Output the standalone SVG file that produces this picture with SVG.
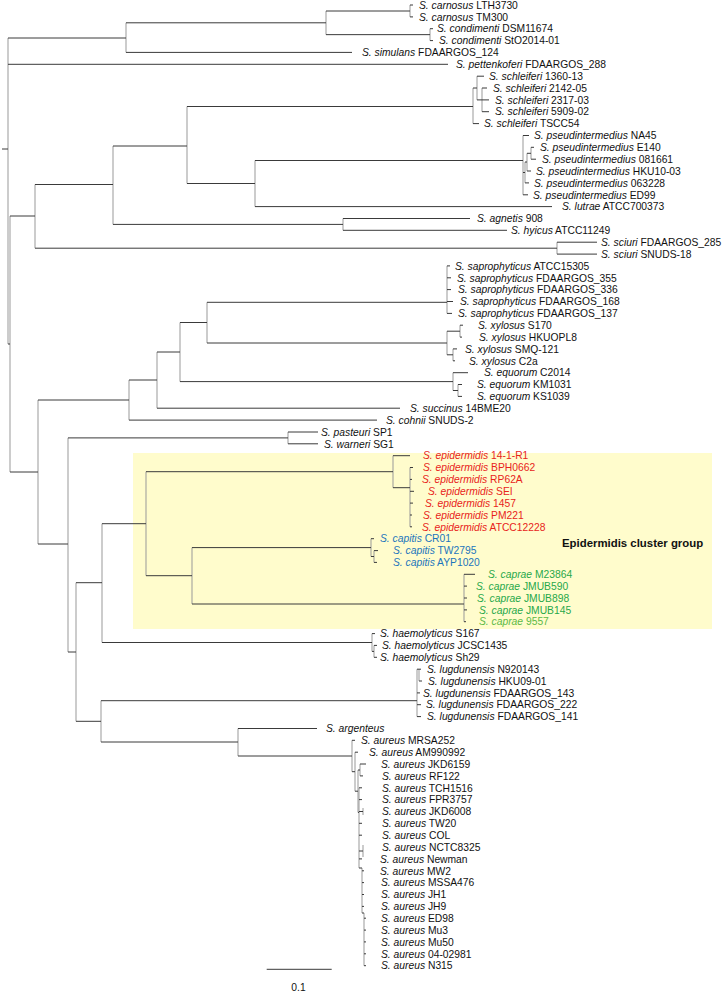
<svg xmlns="http://www.w3.org/2000/svg" width="726" height="992" viewBox="0 0 726 992">
<style>
.bg{fill:#fff}
.box{fill:#fffccc}
.h{fill:none;stroke:#3a3a3a;stroke-width:1}
.v{fill:none;stroke:#999;stroke-width:1}
text{font-family:"Liberation Sans",Arial,sans-serif;font-size:10.3px;fill:#111}
.sp{font-style:italic}
.red{fill:#e8231a}
.blue{fill:#1b75bc}
.green{fill:#1fa84a}
.lgreen{fill:#5cb946}
.grp{font-weight:bold;font-size:11.4px}
</style>
<rect class="bg" x="0" y="0" width="726" height="992"/>
<rect id="epidermidis-cluster-box" class="box" x="133" y="453" width="579" height="176"/>
<g id="connectors">
<path class="v" d="M8 38V344M126 22.8V52.4M326 11V34.65M410 5V16.9M430 28.7V40.6M10 216V472M35 184.5V248.2M557 242.2V254.1M113 146V224.4M343 218.5V230.3M187 106.5V183.5M473 88V123.6M477 76.2V99.9M482 88V111.7M255 160.5V206.6M523 135.5V194.8M525 162V182.9M527 153.3V171M531 147.3V159.2M38 400V544M129 380V420.1M157 352V408.2M180 322.5V381.6M207 302.3V343M447 265.9V313.4M447 331.2V354.8M460 325.2V337.1M453 348.9V360.8M453 372.7V390.5M458 384.5V396.4M68 437.9V652M288 432V443.8M76 582.7V721.3M102 523.7V642.5M146 471.7V575.7M192 547.6V604M393 455.7V487.7M410 467.5V526.8M371 538.7V556.5M374 550.6V562.4M464 574.3V621.7M372 633.6V651.4M374 645.4V657.3M101 700.7V742M417 669.2V716.6M419 669.2V681M238 728.5V756M352 740.3V771.7M355 752.2V791.2M358 770V812.4M360 764V775.9M359 787.8V868M363 808V815M363 845V857M362 868V913M364 913V965.7"/>
<path class="h" d="M2 149H8M8 38H126M8 64.3H448M8 344H10M126 22.8H326M126 52.4H352M326 11H410M326 34.65H430M410 5H413M410 16.9H413M430 28.7H433M430 40.6H433M10 216H35M10 472H38M35 184.5H113M35 248.2H557M557 242.2H597M557 254.1H597M113 146H187M113 224.4H343M343 218.5H470M343 230.3H507M187 106.5H473M187 183.5H255M473 88H477M473 123.6H479M477 76.2H484M477 99.9H482M482 88H487M482 99.9H489M482 111.7H489M255 160.5H523M255 206.6H552M523 135.5H529M523 172.5H525M525 162H527M527 153.3H531M531 147.3H534M531 159.2H536M527 171H531M525 182.9H529M523 194.8H528M38 400H129M38 544H68M129 380H157M129 420.1H377M157 352H180M157 408.2H400M180 322.5H207M180 381.6H453M207 302.3H447M207 343H447M447 265.9H450M447 277.8H451M447 289.6H451M447 301.5H453M447 313.4H452M447 331.2H460M460 325.2H463M460 337.1H462M447 354.8H453M453 348.9H457M453 360.8H455M453 372.7H468M453 390.5H458M458 384.5H462M458 396.4H462M68 437.9H288M68 652H76M288 432H318M288 443.8H318M76 582.7H102M76 721.3H101M102 523.7H146M102 642.5H372M146 471.7H393M146 575.7H192M192 547.6H371M192 604H464M393 455.7H410M393 487.7H410M410 467.5H413M410 479.4H412M410 491.3H414M410 503.1H413M410 515H412M410 526.8H412M371 538.7H374M371 556.5H374M374 550.6H378M374 562.4H377M464 574.3H475M464 586.1H467M464 598H467M464 609.9H467M464 621.7H466M372 633.6H375M372 651.4H374M374 645.4H377M374 657.3H377M101 700.7H417M101 742H238M417 669.2H421M419 681H422M417 692.9H420M417 704.7H421M417 716.6H421M238 728.5H317M238 756H352M352 740.3H355M352 771.7H355M355 752.2H358M355 791.2H358M358 770H360M360 764H366M360 775.9H363M358 812.4H359M359 787.8H362M359 799.6H362M359 811.5H363M359 823.3H362M359 835.2H362M359 851H363M359 858.9H362M359 868H362M362 870.8H364M362 882.6H364M362 894.5H364M362 906.4H364M362 913H364M364 918.2H366M364 930.1H366M364 941.9H366M364 953.8H366M364 965.7H366"/>
</g>
<g id="scale-bar">
<path class="h" d="M266.7 969.3H331.7"/>
<text x="298.5" y="990.5" text-anchor="middle">0.1</text>
</g>
<g id="label-group"><text class="grp" x="562" y="547">Epidermidis cluster group</text></g>
<g id="leaf-00"><text x="419" y="8.7"><tspan class="sp">S. carnosus</tspan> LTH3730</text></g>
<g id="leaf-01"><text x="419" y="20.6"><tspan class="sp">S. carnosus</tspan> TM300</text></g>
<g id="leaf-02"><text x="437" y="32.4"><tspan class="sp">S. condimenti</tspan> DSM11674</text></g>
<g id="leaf-03"><text x="439" y="44.3"><tspan class="sp">S. condimenti</tspan> StO2014-01</text></g>
<g id="leaf-04"><text x="362" y="56.1"><tspan class="sp">S. simulans</tspan> FDAARGOS_124</text></g>
<g id="leaf-05"><text x="456" y="68.0"><tspan class="sp">S. pettenkoferi</tspan> FDAARGOS_288</text></g>
<g id="leaf-06"><text x="489" y="79.9"><tspan class="sp">S. schleiferi</tspan> 1360-13</text></g>
<g id="leaf-07"><text x="493" y="91.7"><tspan class="sp">S. schleiferi</tspan> 2142-05</text></g>
<g id="leaf-08"><text x="495" y="103.6"><tspan class="sp">S. schleiferi</tspan> 2317-03</text></g>
<g id="leaf-09"><text x="495" y="115.4"><tspan class="sp">S. schleiferi</tspan> 5909-02</text></g>
<g id="leaf-10"><text x="484" y="127.3"><tspan class="sp">S. schleiferi</tspan> TSCC54</text></g>
<g id="leaf-11"><text x="534" y="139.2"><tspan class="sp">S. pseudintermedius</tspan> NA45</text></g>
<g id="leaf-12"><text x="540" y="151.0"><tspan class="sp">S. pseudintermedius</tspan> E140</text></g>
<g id="leaf-13"><text x="542" y="162.9"><tspan class="sp">S. pseudintermedius</tspan> 081661</text></g>
<g id="leaf-14"><text x="536" y="174.7"><tspan class="sp">S. pseudintermedius</tspan> HKU10-03</text></g>
<g id="leaf-15"><text x="534" y="186.6"><tspan class="sp">S. pseudintermedius</tspan> 063228</text></g>
<g id="leaf-16"><text x="533" y="198.5"><tspan class="sp">S. pseudintermedius</tspan> ED99</text></g>
<g id="leaf-17"><text x="562" y="210.3"><tspan class="sp">S. lutrae</tspan> ATCC700373</text></g>
<g id="leaf-18"><text x="477" y="222.2"><tspan class="sp">S. agnetis</tspan> 908</text></g>
<g id="leaf-19"><text x="511" y="234.0"><tspan class="sp">S. hyicus</tspan> ATCC11249</text></g>
<g id="leaf-20"><text x="601" y="245.9"><tspan class="sp">S. sciuri</tspan> FDAARGOS_285</text></g>
<g id="leaf-21"><text x="601" y="257.8"><tspan class="sp">S. sciuri</tspan> SNUDS-18</text></g>
<g id="leaf-22"><text x="455" y="269.6"><tspan class="sp">S. saprophyticus</tspan> ATCC15305</text></g>
<g id="leaf-23"><text x="457" y="281.5"><tspan class="sp">S. saprophyticus</tspan> FDAARGOS_355</text></g>
<g id="leaf-24"><text x="458" y="293.3"><tspan class="sp">S. saprophyticus</tspan> FDAARGOS_336</text></g>
<g id="leaf-25"><text x="460" y="305.2"><tspan class="sp">S. saprophyticus</tspan> FDAARGOS_168</text></g>
<g id="leaf-26"><text x="458" y="317.1"><tspan class="sp">S. saprophyticus</tspan> FDAARGOS_137</text></g>
<g id="leaf-27"><text x="478" y="328.9"><tspan class="sp">S. xylosus</tspan> S170</text></g>
<g id="leaf-28"><text x="479" y="340.8"><tspan class="sp">S. xylosus</tspan> HKUOPL8</text></g>
<g id="leaf-29"><text x="465" y="352.6"><tspan class="sp">S. xylosus</tspan> SMQ-121</text></g>
<g id="leaf-30"><text x="469" y="364.5"><tspan class="sp">S. xylosus</tspan> C2a</text></g>
<g id="leaf-31"><text x="484" y="376.4"><tspan class="sp">S. equorum</tspan> C2014</text></g>
<g id="leaf-32"><text x="477" y="388.2"><tspan class="sp">S. equorum</tspan> KM1031</text></g>
<g id="leaf-33"><text x="477" y="400.1"><tspan class="sp">S. equorum</tspan> KS1039</text></g>
<g id="leaf-34"><text x="410" y="411.9"><tspan class="sp">S. succinus</tspan> 14BME20</text></g>
<g id="leaf-35"><text x="386" y="423.8"><tspan class="sp">S. cohnii</tspan> SNUDS-2</text></g>
<g id="leaf-36"><text x="321" y="435.7"><tspan class="sp">S. pasteuri</tspan> SP1</text></g>
<g id="leaf-37"><text x="324" y="447.5"><tspan class="sp">S. warneri</tspan> SG1</text></g>
<g id="leaf-38"><text class="red" x="423" y="459.4"><tspan class="sp">S. epidermidis</tspan> 14-1-R1</text></g>
<g id="leaf-39"><text class="red" x="423" y="471.2"><tspan class="sp">S. epidermidis</tspan> BPH0662</text></g>
<g id="leaf-40"><text class="red" x="422" y="483.1"><tspan class="sp">S. epidermidis</tspan> RP62A</text></g>
<g id="leaf-41"><text class="red" x="428" y="495.0"><tspan class="sp">S. epidermidis</tspan> SEI</text></g>
<g id="leaf-42"><text class="red" x="425" y="506.8"><tspan class="sp">S. epidermidis</tspan> 1457</text></g>
<g id="leaf-43"><text class="red" x="423" y="518.7"><tspan class="sp">S. epidermidis</tspan> PM221</text></g>
<g id="leaf-44"><text class="red" x="422" y="530.5"><tspan class="sp">S. epidermidis</tspan> ATCC12228</text></g>
<g id="leaf-45"><text class="blue" x="380" y="542.4"><tspan class="sp">S. capitis</tspan> CR01</text></g>
<g id="leaf-46"><text class="blue" x="393" y="554.3"><tspan class="sp">S. capitis</tspan> TW2795</text></g>
<g id="leaf-47"><text class="blue" x="393" y="566.1"><tspan class="sp">S. capitis</tspan> AYP1020</text></g>
<g id="leaf-48"><text class="green" x="488" y="578.0"><tspan class="sp">S. caprae</tspan> M23864</text></g>
<g id="leaf-49"><text class="green" x="476" y="589.8"><tspan class="sp">S. caprae</tspan> JMUB590</text></g>
<g id="leaf-50"><text class="green" x="477" y="601.7"><tspan class="sp">S. caprae</tspan> JMUB898</text></g>
<g id="leaf-51"><text class="green" x="479" y="613.6"><tspan class="sp">S. caprae</tspan> JMUB145</text></g>
<g id="leaf-52"><text class="lgreen" x="479" y="625.4"><tspan class="sp">S. caprae</tspan> 9557</text></g>
<g id="leaf-53"><text x="380" y="637.3"><tspan class="sp">S. haemolyticus</tspan> S167</text></g>
<g id="leaf-54"><text x="382" y="649.1"><tspan class="sp">S. haemolyticus</tspan> JCSC1435</text></g>
<g id="leaf-55"><text x="380" y="661.0"><tspan class="sp">S. haemolyticus</tspan> Sh29</text></g>
<g id="leaf-56"><text x="427" y="672.9"><tspan class="sp">S. lugdunensis</tspan> N920143</text></g>
<g id="leaf-57"><text x="428" y="684.7"><tspan class="sp">S. lugdunensis</tspan> HKU09-01</text></g>
<g id="leaf-58"><text x="423" y="696.6"><tspan class="sp">S. lugdunensis</tspan> FDAARGOS_143</text></g>
<g id="leaf-59"><text x="426" y="708.4"><tspan class="sp">S. lugdunensis</tspan> FDAARGOS_222</text></g>
<g id="leaf-60"><text x="427" y="720.3"><tspan class="sp">S. lugdunensis</tspan> FDAARGOS_141</text></g>
<g id="leaf-61"><text x="326" y="732.2"><tspan class="sp">S. argenteus</tspan></text></g>
<g id="leaf-62"><text x="361" y="744.0"><tspan class="sp">S. aureus</tspan> MRSA252</text></g>
<g id="leaf-63"><text x="369" y="755.9"><tspan class="sp">S. aureus</tspan> AM990992</text></g>
<g id="leaf-64"><text x="381" y="767.7"><tspan class="sp">S. aureus</tspan> JKD6159</text></g>
<g id="leaf-65"><text x="382" y="779.6"><tspan class="sp">S. aureus</tspan> RF122</text></g>
<g id="leaf-66"><text x="382" y="791.5"><tspan class="sp">S. aureus</tspan> TCH1516</text></g>
<g id="leaf-67"><text x="382" y="803.3"><tspan class="sp">S. aureus</tspan> FPR3757</text></g>
<g id="leaf-68"><text x="382" y="815.2"><tspan class="sp">S. aureus</tspan> JKD6008</text></g>
<g id="leaf-69"><text x="382" y="827.0"><tspan class="sp">S. aureus</tspan> TW20</text></g>
<g id="leaf-70"><text x="382" y="838.9"><tspan class="sp">S. aureus</tspan> COL</text></g>
<g id="leaf-71"><text x="382" y="850.8"><tspan class="sp">S. aureus</tspan> NCTC8325</text></g>
<g id="leaf-72"><text x="380" y="862.6"><tspan class="sp">S. aureus</tspan> Newman</text></g>
<g id="leaf-73"><text x="380" y="874.5"><tspan class="sp">S. aureus</tspan> MW2</text></g>
<g id="leaf-74"><text x="381" y="886.3"><tspan class="sp">S. aureus</tspan> MSSA476</text></g>
<g id="leaf-75"><text x="381" y="898.2"><tspan class="sp">S. aureus</tspan> JH1</text></g>
<g id="leaf-76"><text x="381" y="910.1"><tspan class="sp">S. aureus</tspan> JH9</text></g>
<g id="leaf-77"><text x="381" y="921.9"><tspan class="sp">S. aureus</tspan> ED98</text></g>
<g id="leaf-78"><text x="381" y="933.8"><tspan class="sp">S. aureus</tspan> Mu3</text></g>
<g id="leaf-79"><text x="381" y="945.6"><tspan class="sp">S. aureus</tspan> Mu50</text></g>
<g id="leaf-80"><text x="381" y="957.5"><tspan class="sp">S. aureus</tspan> 04-02981</text></g>
<g id="leaf-81"><text x="381" y="969.4"><tspan class="sp">S. aureus</tspan> N315</text></g>
</svg>
